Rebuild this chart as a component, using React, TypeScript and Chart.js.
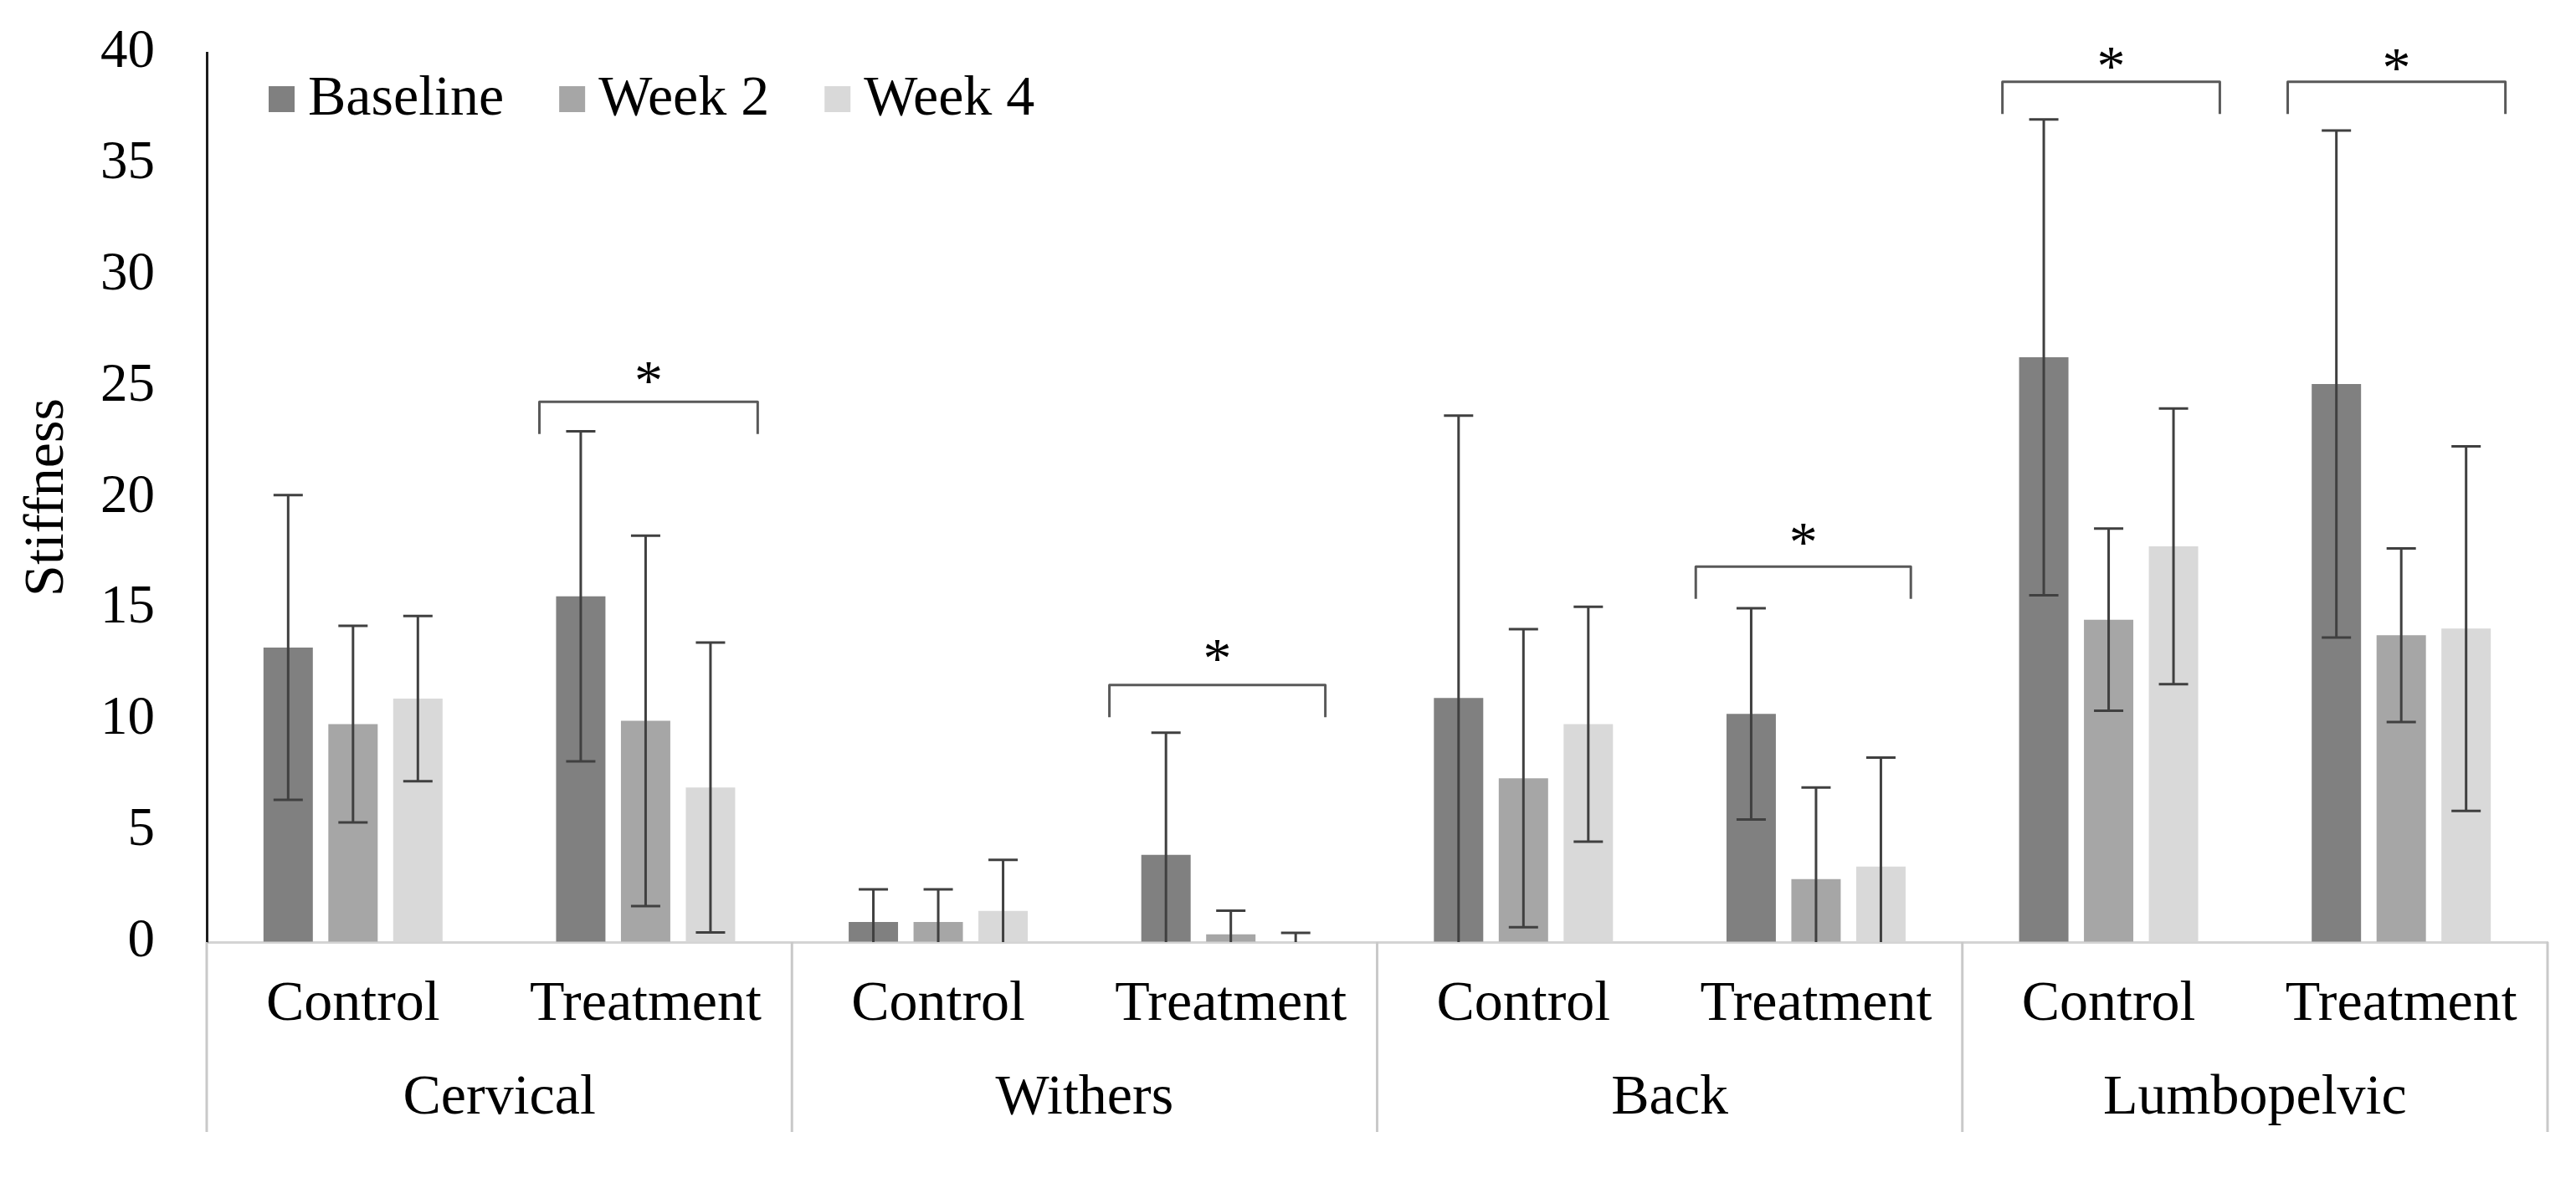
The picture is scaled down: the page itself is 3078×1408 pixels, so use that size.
import React, { useEffect, useRef } from 'react';
import { Chart, registerables } from 'chart.js';

Chart.register(...registerables);

// ---- data ----
const groups = ['Cervical', 'Withers', 'Back', 'Lumbopelvic'];
const categories = ['Control', 'Treatment', 'Control', 'Treatment', 'Control', 'Treatment', 'Control', 'Treatment'];
const seriesNames = ['Baseline', 'Week 2', 'Week 4'];

const baseline = [13.25, 15.55, 0.9, 3.92, 10.98, 10.26, 26.3, 25.1];
const baselineSD = [6.85, 7.42, 1.47, 5.5, 12.7, 4.75, 10.7, 11.4];
const week2 = [9.8, 9.95, 0.9, 0.35, 7.37, 2.83, 14.5, 13.8];
const week2SD = [4.42, 8.33, 1.47, 1.06, 6.7, 4.12, 4.1, 3.9];
const week4 = [10.95, 6.95, 1.4, 0.03, 9.8, 3.4, 17.8, 14.1];
const week4SD = [3.72, 6.52, 2.3, 0.38, 5.28, 4.9, 6.2, 8.2];

const yMin = 0;
const yMax = 40;
const yStep = 5;

// significance brackets (category-index units / value units)
const bracketStart = [0.637, 2.585, 4.589, 5.637, 6.612];
const bracketEnd = [1.383, 3.323, 5.324, 6.38, 7.356];
const bracketLevel = [24.3, 11.56, 16.89, 38.69, 38.69];
const starLevel = [25.63, 13.14, 18.35, 39.78, 39.7];
const bracketDrop = 1.45;
const starLabel = '*';

const seriesValues = [baseline, week2, week4];
const seriesErrors = [baselineSD, week2SD, week4SD];
const seriesColors = ['#808080', '#a6a6a6', '#d9d9d9'];

const FONT = '"Liberation Serif", "Times New Roman", Times, serif';
const W = 3078;
const H = 1408;
const PLOT_TOP = 63;
const PLOT_BOTTOM = 1126;
const BOX_BOTTOM = 1353;
const GROUP_LABEL_Y = 1313;

const overlayPlugin = {
  id: 'overlay',
  afterDatasetsDraw(chart: any) {
    const { ctx, chartArea, scales } = chart;
    const x = scales.x;
    const y = scales.y;

    // error bars
    ctx.save();
    ctx.beginPath();
    ctx.rect(chartArea.left, chartArea.top - 10, chartArea.right - chartArea.left, chartArea.bottom - chartArea.top + 10);
    ctx.clip();
    ctx.strokeStyle = '#404040';
    ctx.lineWidth = 3;
    chart.data.datasets.forEach((ds: any, di: number) => {
      const meta = chart.getDatasetMeta(di);
      const errs = seriesErrors[di];
      meta.data.forEach((bar: any, i: number) => {
        const v = ds.data[i];
        const e = errs[i];
        const top = y.getPixelForValue(v + e);
        const bot = y.getPixelForValue(v - e);
        const bx = bar.x;
        const cap = 17.5;
        ctx.beginPath();
        ctx.moveTo(bx, top);
        ctx.lineTo(bx, Math.min(bot, chartArea.bottom));
        ctx.moveTo(bx - cap, top);
        ctx.lineTo(bx + cap, top);
        if (v - e >= yMin) {
          ctx.moveTo(bx - cap, bot);
          ctx.lineTo(bx + cap, bot);
        }
        ctx.stroke();
      });
    });
    ctx.restore();

    // brackets + stars
    ctx.save();
    ctx.strokeStyle = '#595959';
    ctx.lineWidth = 3;
    ctx.lineJoin = 'round';
    ctx.fillStyle = '#000';
    ctx.font = `68px ${FONT}`;
    ctx.textAlign = 'center';
    ctx.textBaseline = 'alphabetic';
    bracketStart.forEach((s, i) => {
      const x0 = x.getPixelForValue(s);
      const x1 = x.getPixelForValue(bracketEnd[i]);
      const yt = y.getPixelForValue(bracketLevel[i]);
      const yb = y.getPixelForValue(bracketLevel[i] - bracketDrop);
      ctx.beginPath();
      ctx.moveTo(x0, yb);
      ctx.lineTo(x0, yt);
      ctx.lineTo(x1, yt);
      ctx.lineTo(x1, yb);
      ctx.stroke();
      const sy = y.getPixelForValue(starLevel[i]);
      ctx.fillText(starLabel, (x0 + x1) / 2, sy + 32);
    });
    ctx.restore();
  },
  afterDraw(chart: any) {
    const { ctx, chartArea, scales } = chart;
    const x = scales.x;

    // category box separators
    ctx.save();
    ctx.strokeStyle = '#c9c9c9';
    ctx.lineWidth = 3;
    for (let k = 0; k <= groups.length; k++) {
      const px = x.getPixelForValue(k * 2 - 0.5);
      ctx.beginPath();
      ctx.moveTo(px, chartArea.bottom);
      ctx.lineTo(px, BOX_BOTTOM);
      ctx.stroke();
    }
    // group labels
    ctx.fillStyle = '#000';
    ctx.font = `68px ${FONT}`;
    ctx.textAlign = 'center';
    ctx.textBaseline = 'middle';
    groups.forEach((g, k) => {
      const px = x.getPixelForValue(k * 2 + 0.5);
      ctx.fillText(g, px, GROUP_LABEL_Y);
    });

    // legend inside plot area
    ctx.font = `68px ${FONT}`;
    ctx.textAlign = 'left';
    ctx.textBaseline = 'alphabetic';
    let lx = chartArea.left + 74;
    const boxTop = 103;
    const box = 31;
    seriesNames.forEach((name, i) => {
      ctx.fillStyle = seriesColors[i];
      ctx.fillRect(lx, boxTop, box, box);
      ctx.fillStyle = '#000';
      ctx.fillText(name, lx + box + 16, 137);
      lx += box + 16 + ctx.measureText(name).width + 66;
    });
    ctx.restore();
  },
};

export default function App() {
  const canvasRef = useRef<HTMLCanvasElement | null>(null);

  useEffect(() => {
    document.body.style.margin = '0';
    document.body.style.overflow = 'hidden';
    const canvas = canvasRef.current;
    if (!canvas) return;
    const chart = new Chart(canvas, {
      type: 'bar',
      data: {
        labels: categories,
        datasets: seriesNames.map((name, i) => ({
          label: name,
          data: seriesValues[i],
          backgroundColor: seriesColors[i],
          borderWidth: 0,
          categoryPercentage: 0.665,
          barPercentage: 0.761,
        })),
      },
      options: {
        responsive: false,
        animation: false,
        devicePixelRatio: 1,
        layout: { padding: { top: PLOT_TOP, right: 34, left: 0, bottom: 0 } },
        plugins: {
          legend: { display: false },
          tooltip: { enabled: false },
        },
        scales: {
          x: {
            type: 'category',
            grid: { display: false, drawTicks: false },
            border: { display: true, color: '#d4d4d4', width: 3 },
            ticks: {
              color: '#000',
              font: { family: FONT, size: 68 },
              padding: 34,
              maxRotation: 0,
              autoSkip: false,
            },
            afterFit: (s: any) => {
              s.height = H - PLOT_BOTTOM;
            },
          },
          y: {
            min: yMin,
            max: yMax,
            grid: {
              display: true,
              drawOnChartArea: false,
              drawTicks: true,
              tickLength: 62,
              color: 'rgba(0,0,0,0)',
            },
            border: { display: true, color: '#1c1c1c', width: 3 },
            ticks: {
              stepSize: yStep,
              color: '#000',
              font: { family: FONT, size: 65 },
              padding: 0,
            },
            title: {
              display: true,
              text: 'Stiffness',
              color: '#000',
              font: { family: FONT, size: 68 },
              padding: { top: 16, bottom: 0 },
            },
            afterFit: (s: any) => {
              s.width = 247;
            },
          },
        },
      },
      plugins: [overlayPlugin],
    });
    return () => chart.destroy();
  }, []);

  return (
    <div style={{ width: W, height: H, background: '#fff' }}>
      <canvas ref={canvasRef} width={W} height={H} style={{ display: 'block', width: W, height: H }} />
    </div>
  );
}
